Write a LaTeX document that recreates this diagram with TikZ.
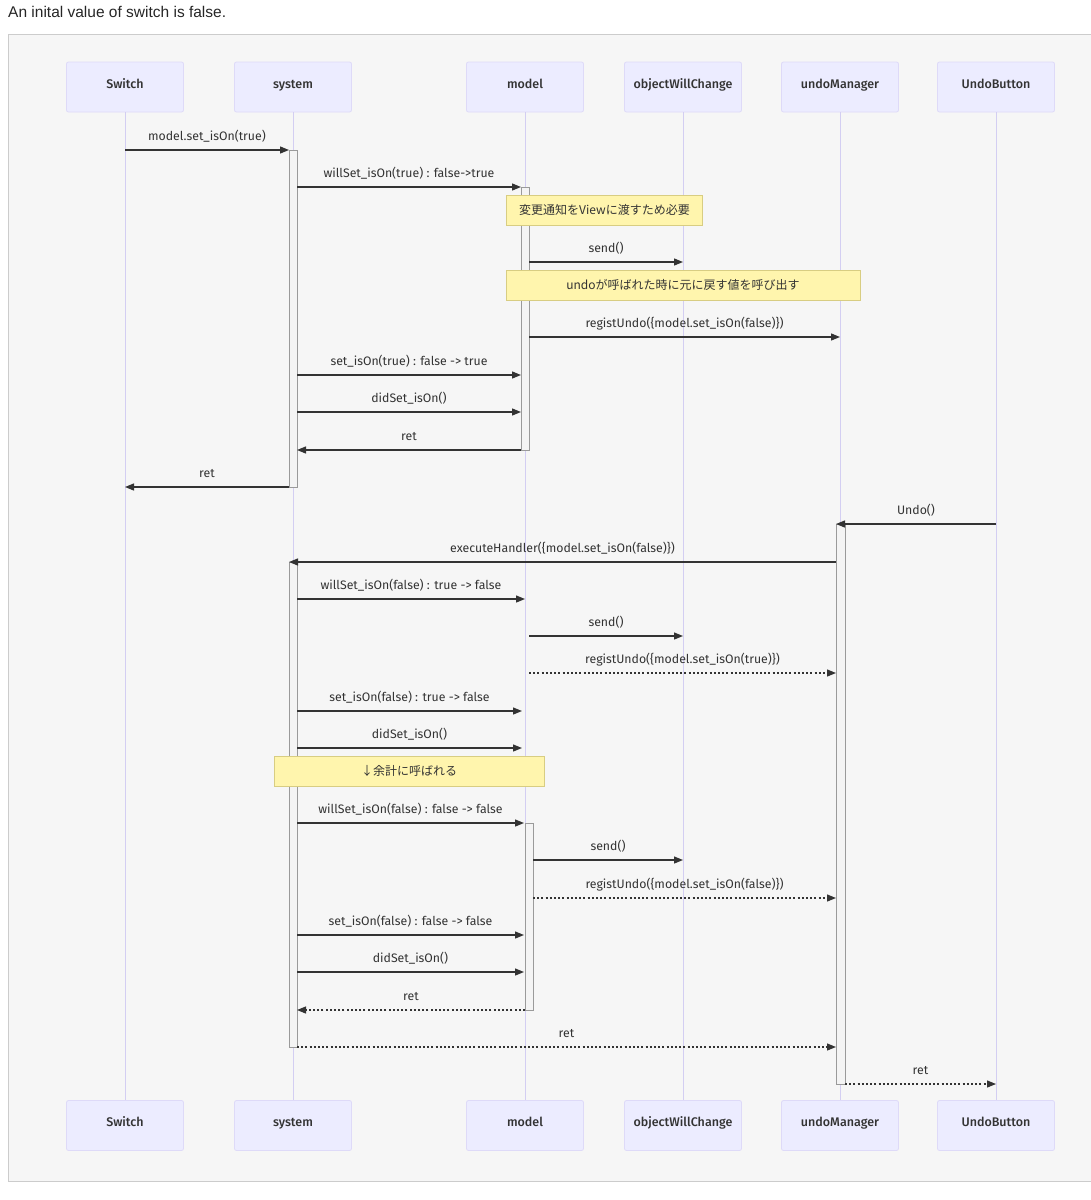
\documentclass[tikz,border=0pt]{standalone}
\usepackage{fontspec}
\setmainfont{Fira Sans}
\newfontfamily\actorfont{Fira Sans Medium}
\newfontfamily\capfont{Liberation Sans}
\newfontfamily\cjk{Noto Sans CJK JP}
\usetikzlibrary{arrows.meta}

\definecolor{bgfill}{HTML}{F6F6F6}
\definecolor{framecol}{HTML}{CCCCCC}
\definecolor{actorfill}{HTML}{ECECFF}
\definecolor{actorline}{HTML}{DEDAF8}
\definecolor{lifecol}{HTML}{D3CEF2}
\definecolor{notefill}{HTML}{FFF5AD}
\definecolor{noteline}{HTML}{D8CD82}
\definecolor{msgcol}{HTML}{333333}
\definecolor{actfill}{HTML}{F4F4F4}
\definecolor{actline}{HTML}{9A9A9A}

\tikzset{
  actor/.style={draw=actorline, fill=actorfill, rounded corners=2pt, line width=0.8pt,
    minimum width=117pt, minimum height=50pt, inner sep=0pt,
    text height=8.5pt, text depth=6.5pt,
    font=\actorfont\fontsize{12.5}{14}\selectfont, text=msgcol},
  life/.style={draw=lifecol, line width=1pt},
  actbar/.style={draw=actline, fill=actfill, line width=1pt},
  msg/.style={draw=msgcol, line width=1.3pt, -{Triangle[length=9pt,width=7pt]}},
  reply/.style={msg, line width=1.2pt, dash pattern=on 2pt off 2.2pt},
  lbl/.style={midway, yshift=13.5pt, font=\fontsize{12.3}{14}\selectfont, text=msgcol},
  note/.style={draw=noteline, fill=notefill, line width=1pt, minimum height=30pt,
    inner sep=0pt, font=\cjk\fontsize{12}{14}\selectfont, text=msgcol}
}

\begin{document}
\begin{tikzpicture}[x=1pt, y=-1pt]
  \useasboundingbox (0,0) rectangle (1091,1200);
  \clip (0,0) rectangle (1091,1200);
  \draw[framecol, fill=bgfill, line width=1pt] (8,34) rectangle (1100,1181);
  \node[anchor=west, inner sep=0pt, font=\capfont\fontsize{15.5}{17}\selectfont, text=black!85]
    (caption) at (8,12) {An inital value of switch is false.};

  \node[actor] (sw) at (125,87) {Switch};
  \node[actor] (sys) at (293,87) {system};
  \node[actor] (mdl) at (525,87) {model};
  \node[actor] (owc) at (683,87) {objectWillChange};
  \node[actor] (um) at (840,87) {undoManager};
  \node[actor] (ub) at (996,87) {UndoButton};
  \node[actor] (swb) at (125,1125.5) {Switch};
  \node[actor] (sysb) at (293,1125.5) {system};
  \node[actor] (mdlb) at (525,1125.5) {model};
  \node[actor] (owcb) at (683,1125.5) {objectWillChange};
  \node[actor] (umb) at (840,1125.5) {undoManager};
  \node[actor] (ubb) at (996,1125.5) {UndoButton};

  \begin{scope}[life]
    \draw (sw) -- (swb);
    \draw (sys) -- (sysb);
    \draw (mdl) -- (mdlb);
    \draw (owc) -- (owcb);
    \draw (um) -- (umb);
    \draw (ub) -- (ubb);
  \end{scope}

  \draw[actbar] (289,150) rectangle (297,487);
  \draw[actbar] (521,187) rectangle (529,450);
  \draw[actbar] (836,524) rectangle (845,1084);
  \draw[actbar] (289,562) rectangle (297,1047);
  \draw[actbar] (525,823) rectangle (533,1010);

  \coordinate (m1s) at (125,150);  \coordinate (m1e) at (289,150);
  \coordinate (m2s) at (297,187);  \coordinate (m2e) at (521,187);
  \coordinate (m3s) at (529,262);  \coordinate (m3e) at (683,262);
  \coordinate (m4s) at (529,337);  \coordinate (m4e) at (840,337);
  \coordinate (m5s) at (297,375);  \coordinate (m5e) at (521,375);
  \coordinate (m6s) at (297,412);  \coordinate (m6e) at (521,412);
  \coordinate (m7s) at (521,450);  \coordinate (m7e) at (297,450);
  \coordinate (m8s) at (289,487);  \coordinate (m8e) at (125,487);
  \coordinate (m9s) at (996,524);  \coordinate (m9e) at (836,524);
  \coordinate (m10s) at (836,562); \coordinate (m10e) at (289,562);
  \coordinate (m11s) at (297,599); \coordinate (m11e) at (525,599);
  \coordinate (m12s) at (529,636); \coordinate (m12e) at (683,636);
  \coordinate (m13s) at (529,673); \coordinate (m13e) at (836,673);
  \coordinate (m14s) at (297,711); \coordinate (m14e) at (522,711);
  \coordinate (m15s) at (297,748); \coordinate (m15e) at (522,748);
  \coordinate (m16s) at (297,823); \coordinate (m16e) at (524,823);
  \coordinate (m17s) at (533,860); \coordinate (m17e) at (683,860);
  \coordinate (m18s) at (533,898); \coordinate (m18e) at (836,898);
  \coordinate (m19s) at (297,935); \coordinate (m19e) at (524,935);
  \coordinate (m20s) at (297,972); \coordinate (m20e) at (524,972);
  \coordinate (m21s) at (525,1010); \coordinate (m21e) at (297,1010);
  \coordinate (m22s) at (297,1047); \coordinate (m22e) at (836,1047);
  \coordinate (m23s) at (845,1084); \coordinate (m23e) at (996,1084);

  \draw[msg] (m1s) -- node[lbl]{model.set\_isOn(true)} (m1e);
  \draw[msg] (m2s) -- node[lbl]{willSet\_isOn(true) : false->true} (m2e);
  \draw[msg] (m3s) -- node[lbl]{send()} (m3e);
  \draw[msg] (m4s) -- node[lbl]{registUndo(\{model.set\_isOn(false)\})} (m4e);
  \draw[msg] (m5s) -- node[lbl]{set\_isOn(true) : false -> true} (m5e);
  \draw[msg] (m6s) -- node[lbl]{didSet\_isOn()} (m6e);
  \draw[msg] (m7s) -- node[lbl]{ret} (m7e);
  \draw[msg] (m8s) -- node[lbl]{ret} (m8e);
  \draw[msg] (m9s) -- node[lbl]{Undo()} (m9e);
  \draw[msg] (m10s) -- node[lbl]{executeHandler(\{model.set\_isOn(false)\})} (m10e);
  \draw[msg] (m11s) -- node[lbl]{willSet\_isOn(false) : true -> false} (m11e);
  \draw[msg] (m12s) -- node[lbl]{send()} (m12e);
  \draw[reply] (m13s) -- node[lbl]{registUndo(\{model.set\_isOn(true)\})} (m13e);
  \draw[msg] (m14s) -- node[lbl]{set\_isOn(false) : true -> false} (m14e);
  \draw[msg] (m15s) -- node[lbl]{didSet\_isOn()} (m15e);
  \draw[msg] (m16s) -- node[lbl]{willSet\_isOn(false) : false -> false} (m16e);
  \draw[msg] (m17s) -- node[lbl]{send()} (m17e);
  \draw[reply] (m18s) -- node[lbl]{registUndo(\{model.set\_isOn(false)\})} (m18e);
  \draw[msg] (m19s) -- node[lbl]{set\_isOn(false) : false -> false} (m19e);
  \draw[msg] (m20s) -- node[lbl]{didSet\_isOn()} (m20e);
  \draw[reply] (m21s) -- node[lbl]{ret} (m21e);
  \draw[reply] (m22s) -- node[lbl]{ret} (m22e);
  \draw[reply] (m23s) -- node[lbl]{ret} (m23e);

  \node[note, minimum width=196pt] (note1) at (604.5,210) {変更通知をViewに渡すため必要};
  \node[note, minimum width=354pt] (note2) at (683,285) {undoが呼ばれた時に元に戻す値を呼び出す};
  \node[note, minimum width=270pt] (note3) at (409,771) {↓余計に呼ばれる};
\end{tikzpicture}
\end{document}
